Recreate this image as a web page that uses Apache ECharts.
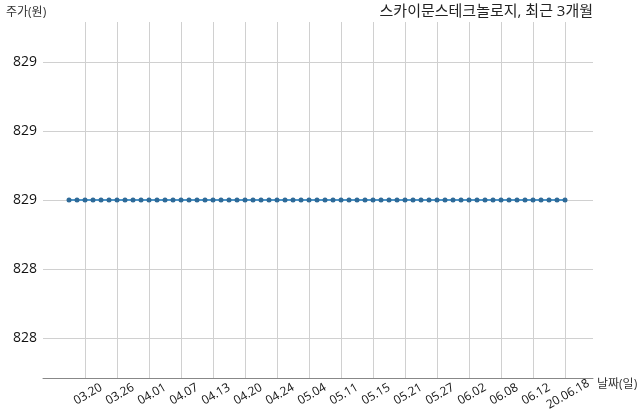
<!DOCTYPE html>
<html>
<head>
<meta charset="utf-8">
<script src="https://cdn.jsdelivr.net/npm/echarts@6/dist/echarts.min.js"></script>
<style>
  html, body { margin: 0; padding: 0; background: #fff; }
  #main { width: 640px; height: 419px; }
</style>
</head>
<body>
<div id="main"></div>
<script>
// trading days, last 3 months
const dates = [
  "03.18", "03.19", "03.20", "03.23", "03.24", "03.25", "03.26", "03.27",
  "03.30", "03.31", "04.01", "04.02", "04.03", "04.06", "04.07", "04.08",
  "04.09", "04.10", "04.13", "04.14", "04.16", "04.17", "04.20", "04.21",
  "04.22", "04.23", "04.24", "04.27", "04.28", "04.29", "05.04", "05.06",
  "05.07", "05.08", "05.11", "05.12", "05.13", "05.14", "05.15", "05.18",
  "05.19", "05.20", "05.21", "05.22", "05.25", "05.26", "05.27", "05.28",
  "05.29", "06.01", "06.02", "06.03", "06.04", "06.05", "06.08", "06.09",
  "06.10", "06.11", "06.12", "06.15", "06.16", "06.17", "20.06.18"
];
const prices = dates.map(() => 829);
const labelIdx = [2, 6, 10, 14, 18, 22, 26, 30, 34, 38, 42, 46, 50, 54, 58, 62];
const yTicks = [828.6, 828.8, 829.0, 829.2, 829.4];

const font = "'Open Sans', 'Noto Sans CJK KR', sans-serif";
const nameStyle = { fontFamily: font, fontSize: 12, fontWeight: "normal", color: "#333" };

let chart = echarts.init(document.getElementById("main"), null, { renderer: "canvas" });
chart.setOption({
  animation: false,
  textStyle: { fontFamily: font },
  title: [{
    text: "스카이문스테크놀로지, 최근 3개월",
    right: 47,
    top: 4,
    padding: 0,
    textStyle: { fontFamily: font, fontSize: 15, fontWeight: "normal", color: "#222" }
  }, {
    // y axis name
    text: "주가(원)",
    left: 6,
    top: 7,
    padding: 0,
    textStyle: nameStyle
  }, {
    // x axis name
    text: "날짜(일)",
    left: 597,
    top: 379,
    padding: 0,
    textStyle: nameStyle
  }],
  grid: { left: 43, right: 47, top: 22, bottom: 41 },
  xAxis: {
    type: "value",
    min: -3.25,
    max: 65.5,
    axisLine: { show: true, lineStyle: { color: "#888", width: 1 } },
    axisTick: { show: false, customValues: labelIdx },
    axisLabel: {
      customValues: labelIdx,
      formatter: v => dates[Math.round(v)] || "",
      rotate: 30,
      align: "center",
      verticalAlign: "top",
      margin: 11,
      fontSize: 12,
      color: "#111"
    },
    splitLine: { show: true, lineStyle: { color: "#d0d0d0", width: 1 } }
  },
  yAxis: {
    type: "value",
    min: 828.484,
    max: 829.516,
    axisLine: { show: false },
    axisTick: { show: false, customValues: yTicks },
    axisLabel: {
      customValues: yTicks,
      formatter: v => String(Math.floor(Math.round(v * 10) / 10)),
      margin: 6,
      fontSize: 14,
      color: "#111"
    },
    splitLine: { show: true, lineStyle: { color: "#d0d0d0", width: 1 } }
  },
  series: [{
    type: "line",
    data: prices.map((p, i) => [i, p]),
    symbol: "circle",
    symbolSize: 5,
    itemStyle: { color: "#2e6a98" },
    lineStyle: { color: "#4a94c8", width: 2 }
  }]
});
</script>
</body>
</html>
